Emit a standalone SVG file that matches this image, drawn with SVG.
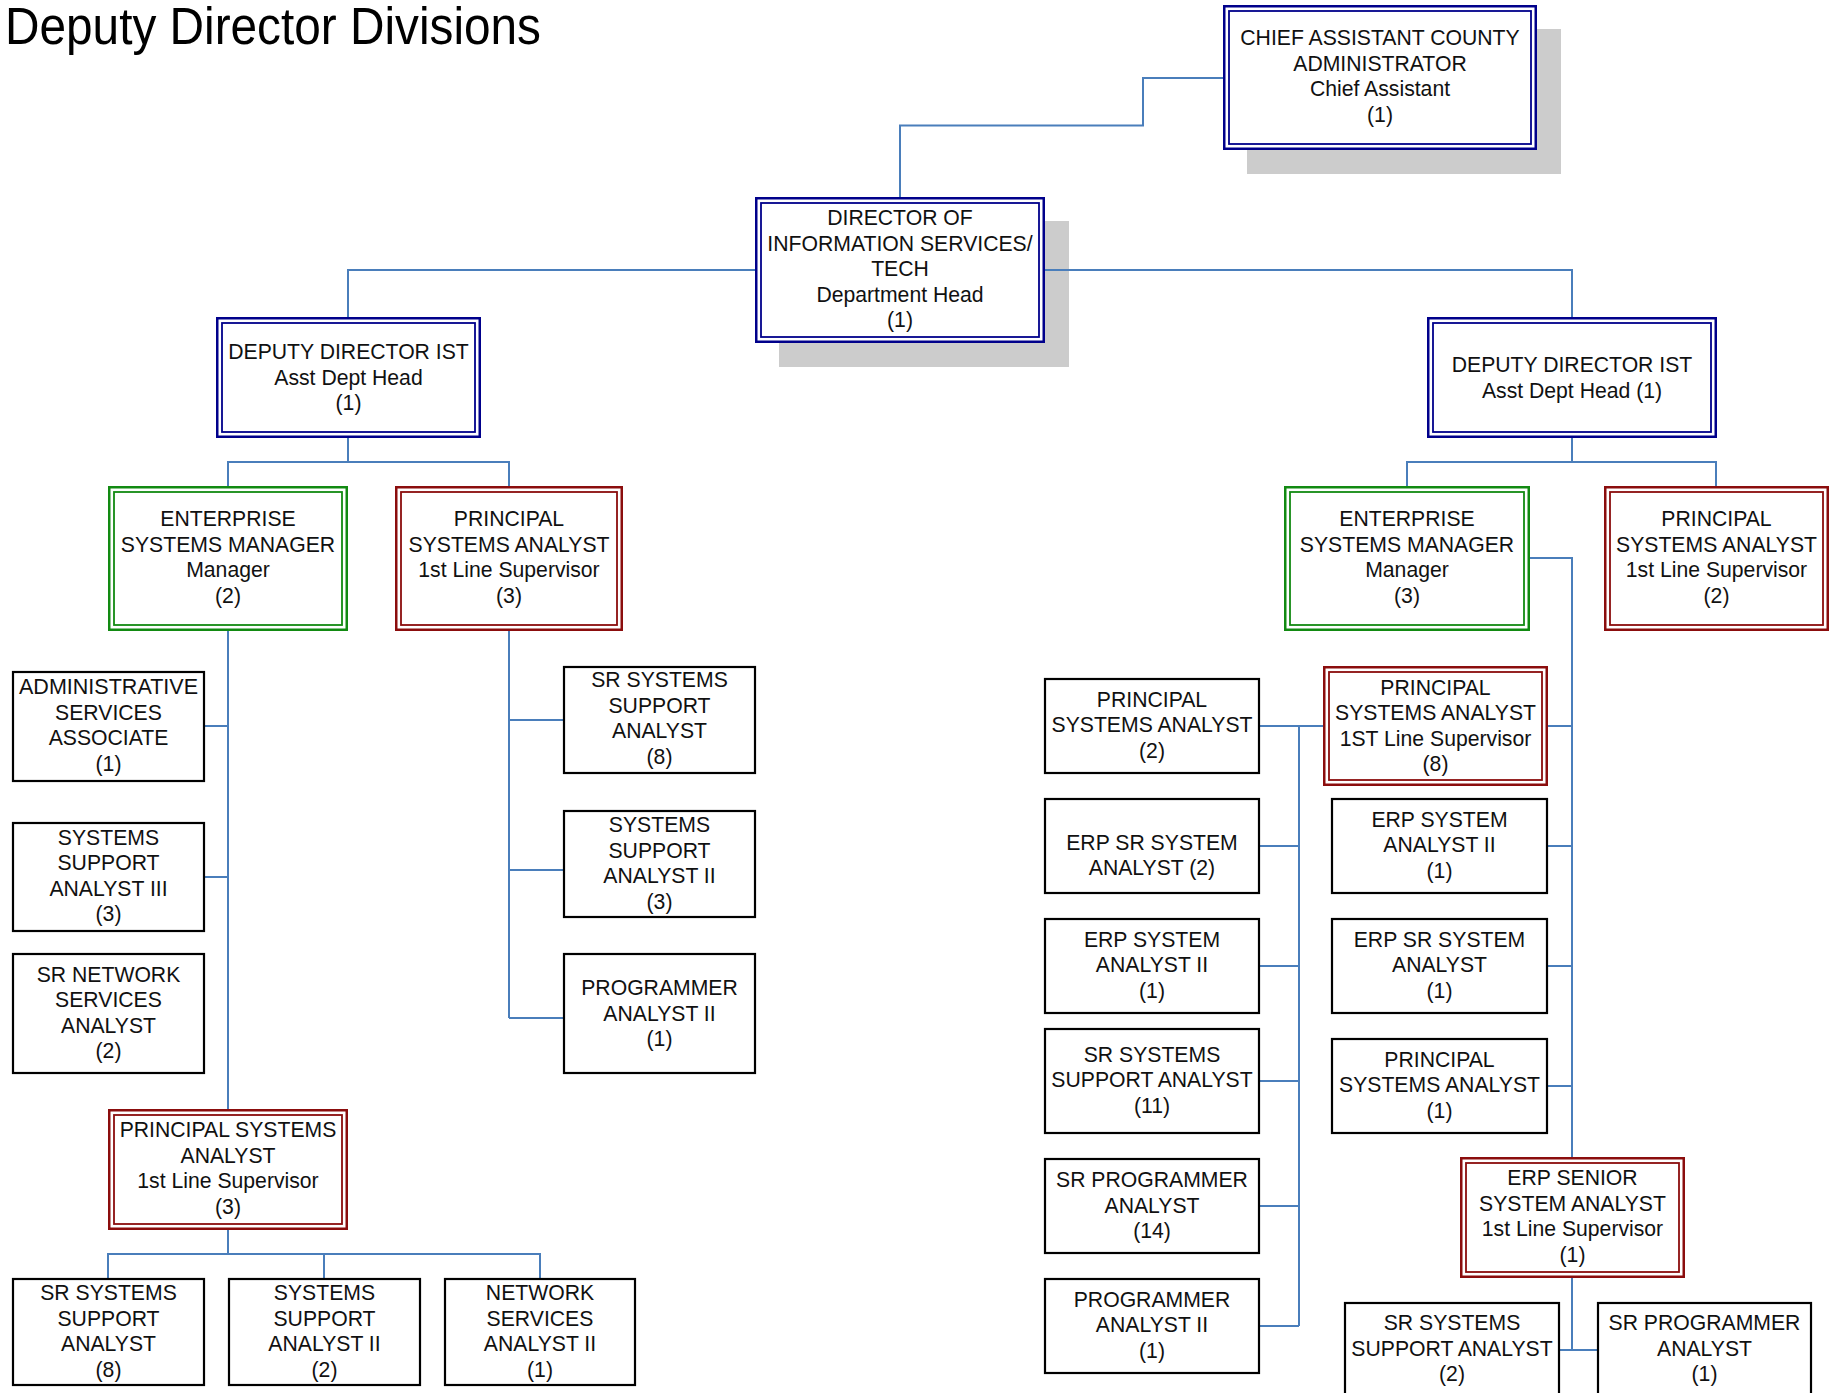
<svg xmlns="http://www.w3.org/2000/svg" width="1833" height="1393" viewBox="0 0 1833 1393">
  <style>
    text{font-family:"Liberation Sans",Arial,Helvetica,sans-serif;font-size:21.2px;fill:#111;text-anchor:middle}
    .title{font-size:51px;text-anchor:start;fill:#000}
    .sh{fill:#cccccc}
    .o{fill:#fff;stroke-width:2.5}
    .i{fill:none;stroke-width:1.8}
    .navy rect.o,.navy rect.i{stroke:#00008b}
    .grn rect.o,.grn rect.i{stroke:#128a12}
    .red rect.o,.red rect.i{stroke:#8b0d0d}
    .box{fill:#fff;stroke:#000;stroke-width:2.2}
    .cn{fill:none;stroke:#4a7ebb;stroke-width:2}
  </style>

  <rect width="1833" height="1393" fill="#fff"/>

  <text class="title" x="5" y="44" textLength="536" lengthAdjust="spacingAndGlyphs">Deputy Director Divisions</text>

  <!-- drop shadows of the two top positions -->
  <rect class="sh" x="1247" y="29" width="314" height="145"/>
  <rect class="sh" x="779" y="221" width="290" height="146"/>

  <!-- reporting lines -->
  <g id="connectors" class="cn">
    <path d="M1223,78 H1143 V125.5 H900 V197"/>
    <path d="M755,270 H348 V317"/>
    <path d="M1045,270 H1572 V317"/>
    <!-- left deputy -->
    <path d="M348,438 V462"/>
    <path d="M228,486 V462 H509 V486"/>
    <path d="M228,631 V1109"/>
    <path d="M205,726 H228"/>
    <path d="M205,877 H228"/>
    <path d="M509,631 V1018"/>
    <path d="M509,720 H563"/>
    <path d="M509,870 H563"/>
    <path d="M509,1018 H563"/>
    <path d="M228,1230 V1254"/>
    <path d="M108,1278 V1254 H540 V1278"/>
    <path d="M324,1254 V1278"/>
    <!-- right deputy -->
    <path d="M1572,438 V462"/>
    <path d="M1407,486 V462 H1716 V486"/>
    <path d="M1530,558 H1572 V1157"/>
    <path d="M1548,726 H1572"/>
    <path d="M1548,846 H1572"/>
    <path d="M1548,966 H1572"/>
    <path d="M1548,1086 H1572"/>
    <path d="M1260,726 H1323"/>
    <path d="M1299,726 V1326"/>
    <path d="M1260,846 H1299"/>
    <path d="M1260,966 H1299"/>
    <path d="M1260,1081 H1299"/>
    <path d="M1260,1206 H1299"/>
    <path d="M1260,1326 H1299"/>
    <path d="M1572,1278 V1350"/>
    <path d="M1560,1350 H1597"/>
  </g>

  <!-- top positions -->
  <g id="chief-assistant" class="navy">
    <rect class="o" x="1224.25" y="6.25" width="311.5" height="142.5"/>
    <rect class="i" x="1229" y="11" width="302" height="133"/>
    <text x="1380" y="45">CHIEF ASSISTANT COUNTY</text>
    <text x="1380" y="71">ADMINISTRATOR</text>
    <text x="1380" y="96">Chief Assistant</text>
    <text x="1380" y="122">(1)</text>
  </g>

  <g id="director" class="navy">
    <rect class="o" x="756.25" y="198.25" width="287.5" height="143.5"/>
    <rect class="i" x="761" y="203" width="278" height="134"/>
    <text x="900" y="225">DIRECTOR OF</text>
    <text x="900" y="250.6">INFORMATION SERVICES/</text>
    <text x="900" y="276.2">TECH</text>
    <text x="900" y="301.8">Department Head</text>
    <text x="900" y="327.4">(1)</text>
  </g>

  <g id="deputy-left" class="navy">
    <rect class="o" x="217.25" y="318.25" width="262.5" height="118.5"/>
    <rect class="i" x="222" y="323" width="253" height="109"/>
    <text x="348.5" y="359">DEPUTY DIRECTOR IST</text>
    <text x="348.5" y="384.6">Asst Dept Head</text>
    <text x="348.5" y="410.2">(1)</text>
  </g>

  <g id="deputy-right" class="navy">
    <rect class="o" x="1428.25" y="318.25" width="287.5" height="118.5"/>
    <rect class="i" x="1433" y="323" width="278" height="109"/>
    <text x="1572" y="372">DEPUTY DIRECTOR IST</text>
    <text x="1572" y="397.6">Asst Dept Head (1)</text>
  </g>

  <!-- left division -->
  <g id="esm-left" class="grn">
    <rect class="o" x="109.25" y="487.25" width="237.5" height="142.5"/>
    <rect class="i" x="114" y="492" width="228" height="133"/>
    <text x="228" y="526">ENTERPRISE</text>
    <text x="228" y="551.6">SYSTEMS MANAGER</text>
    <text x="228" y="577.2">Manager</text>
    <text x="228" y="602.8">(2)</text>
  </g>

  <g id="psa-left" class="red">
    <rect class="o" x="396.25" y="487.25" width="225.5" height="142.5"/>
    <rect class="i" x="401" y="492" width="216" height="133"/>
    <text x="509" y="526">PRINCIPAL</text>
    <text x="509" y="551.6">SYSTEMS ANALYST</text>
    <text x="509" y="577.2">1st Line Supervisor</text>
    <text x="509" y="602.8">(3)</text>
  </g>

  <g id="admin-services-associate">
    <rect class="box" x="13" y="672" width="191" height="109"/>
    <text x="108.5" y="694" textLength="179" lengthAdjust="spacingAndGlyphs">ADMINISTRATIVE</text>
    <text x="108.5" y="719.6">SERVICES</text>
    <text x="108.5" y="745.2">ASSOCIATE</text>
    <text x="108.5" y="770.8">(1)</text>
  </g>

  <g id="ssa-iii">
    <rect class="box" x="13" y="823" width="191" height="108"/>
    <text x="108.5" y="844.5">SYSTEMS</text>
    <text x="108.5" y="870.1">SUPPORT</text>
    <text x="108.5" y="895.7">ANALYST III</text>
    <text x="108.5" y="921.3">(3)</text>
  </g>

  <g id="sr-network-services-analyst">
    <rect class="box" x="13" y="954" width="191" height="119"/>
    <text x="108.5" y="981.5">SR NETWORK</text>
    <text x="108.5" y="1007.1">SERVICES</text>
    <text x="108.5" y="1032.7">ANALYST</text>
    <text x="108.5" y="1058.3">(2)</text>
  </g>

  <g id="sr-ssa-8">
    <rect class="box" x="564" y="667" width="191" height="106"/>
    <text x="659.5" y="687">SR SYSTEMS</text>
    <text x="659.5" y="712.6">SUPPORT</text>
    <text x="659.5" y="738.2">ANALYST</text>
    <text x="659.5" y="763.8">(8)</text>
  </g>

  <g id="ssa-ii-3">
    <rect class="box" x="564" y="811" width="191" height="106"/>
    <text x="659.5" y="832">SYSTEMS</text>
    <text x="659.5" y="857.6">SUPPORT</text>
    <text x="659.5" y="883.2">ANALYST II</text>
    <text x="659.5" y="908.8">(3)</text>
  </g>

  <g id="programmer-analyst-ii-left">
    <rect class="box" x="564" y="954" width="191" height="119"/>
    <text x="659.5" y="995">PROGRAMMER</text>
    <text x="659.5" y="1020.6">ANALYST II</text>
    <text x="659.5" y="1046.2">(1)</text>
  </g>

  <g id="psa-lower-left" class="red">
    <rect class="o" x="109.25" y="1110.25" width="237.5" height="118.5"/>
    <rect class="i" x="114" y="1115" width="228" height="109"/>
    <text x="228" y="1137">PRINCIPAL SYSTEMS</text>
    <text x="228" y="1162.6">ANALYST</text>
    <text x="228" y="1188.2">1st Line Supervisor</text>
    <text x="228" y="1213.8">(3)</text>
  </g>

  <g id="sr-ssa-bottom">
    <rect class="box" x="13" y="1279" width="191" height="106"/>
    <text x="108.5" y="1300">SR SYSTEMS</text>
    <text x="108.5" y="1325.6">SUPPORT</text>
    <text x="108.5" y="1351.2">ANALYST</text>
    <text x="108.5" y="1376.8">(8)</text>
  </g>

  <g id="ssa-ii-bottom">
    <rect class="box" x="229" y="1279" width="191" height="106"/>
    <text x="324.5" y="1300">SYSTEMS</text>
    <text x="324.5" y="1325.6">SUPPORT</text>
    <text x="324.5" y="1351.2">ANALYST II</text>
    <text x="324.5" y="1376.8">(2)</text>
  </g>

  <g id="network-services-analyst-ii">
    <rect class="box" x="445" y="1279" width="190" height="106"/>
    <text x="540" y="1300">NETWORK</text>
    <text x="540" y="1325.6">SERVICES</text>
    <text x="540" y="1351.2">ANALYST II</text>
    <text x="540" y="1376.8">(1)</text>
  </g>

  <!-- right division -->
  <g id="esm-right" class="grn">
    <rect class="o" x="1285.25" y="487.25" width="243.5" height="142.5"/>
    <rect class="i" x="1290" y="492" width="234" height="133"/>
    <text x="1407" y="526">ENTERPRISE</text>
    <text x="1407" y="551.6">SYSTEMS MANAGER</text>
    <text x="1407" y="577.2">Manager</text>
    <text x="1407" y="602.8">(3)</text>
  </g>

  <g id="psa-right" class="red">
    <rect class="o" x="1605.25" y="487.25" width="222.5" height="142.5"/>
    <rect class="i" x="1610" y="492" width="213" height="133"/>
    <text x="1716.5" y="526">PRINCIPAL</text>
    <text x="1716.5" y="551.6">SYSTEMS ANALYST</text>
    <text x="1716.5" y="577.2">1st Line Supervisor</text>
    <text x="1716.5" y="602.8">(2)</text>
  </g>

  <g id="psa-8" class="red">
    <rect class="o" x="1324.25" y="667.25" width="222.5" height="117.5"/>
    <rect class="i" x="1329" y="672" width="213" height="108"/>
    <text x="1435.5" y="694.5">PRINCIPAL</text>
    <text x="1435.5" y="720.1">SYSTEMS ANALYST</text>
    <text x="1435.5" y="745.7">1ST Line Supervisor</text>
    <text x="1435.5" y="771.3">(8)</text>
  </g>

  <g id="psa-2">
    <rect class="box" x="1045" y="679" width="214" height="94"/>
    <text x="1152" y="706.5">PRINCIPAL</text>
    <text x="1152" y="732.1">SYSTEMS ANALYST</text>
    <text x="1152" y="757.7">(2)</text>
  </g>

  <g id="erp-sr-system-analyst-2">
    <rect class="box" x="1045" y="799" width="214" height="94"/>
    <text x="1152" y="849.5">ERP SR SYSTEM</text>
    <text x="1152" y="875.1">ANALYST (2)</text>
  </g>

  <g id="erp-system-analyst-ii-left">
    <rect class="box" x="1045" y="919" width="214" height="94"/>
    <text x="1152" y="946.5">ERP SYSTEM</text>
    <text x="1152" y="972.1">ANALYST II</text>
    <text x="1152" y="997.7">(1)</text>
  </g>

  <g id="sr-ssa-11">
    <rect class="box" x="1045" y="1029" width="214" height="104"/>
    <text x="1152" y="1061.5">SR SYSTEMS</text>
    <text x="1152" y="1087.1">SUPPORT ANALYST</text>
    <text x="1152" y="1112.7">(11)</text>
  </g>

  <g id="sr-programmer-analyst-14">
    <rect class="box" x="1045" y="1159" width="214" height="94"/>
    <text x="1152" y="1187">SR PROGRAMMER</text>
    <text x="1152" y="1212.6">ANALYST</text>
    <text x="1152" y="1238.2">(14)</text>
  </g>

  <g id="programmer-analyst-ii-right">
    <rect class="box" x="1045" y="1279" width="214" height="94"/>
    <text x="1152" y="1306.6">PROGRAMMER</text>
    <text x="1152" y="1332.2">ANALYST II</text>
    <text x="1152" y="1357.8">(1)</text>
  </g>

  <g id="erp-system-analyst-ii-right">
    <rect class="box" x="1332" y="799" width="215" height="94"/>
    <text x="1439.5" y="826.5">ERP SYSTEM</text>
    <text x="1439.5" y="852.1">ANALYST II</text>
    <text x="1439.5" y="877.7">(1)</text>
  </g>

  <g id="erp-sr-system-analyst-1">
    <rect class="box" x="1332" y="919" width="215" height="94"/>
    <text x="1439.5" y="946.5">ERP SR SYSTEM</text>
    <text x="1439.5" y="972.1">ANALYST</text>
    <text x="1439.5" y="997.7">(1)</text>
  </g>

  <g id="psa-1">
    <rect class="box" x="1332" y="1039" width="215" height="94"/>
    <text x="1439.5" y="1066.5">PRINCIPAL</text>
    <text x="1439.5" y="1092.1">SYSTEMS ANALYST</text>
    <text x="1439.5" y="1117.7">(1)</text>
  </g>

  <g id="erp-senior-system-analyst" class="red">
    <rect class="o" x="1461.25" y="1158.25" width="222.5" height="118.5"/>
    <rect class="i" x="1466" y="1163" width="213" height="109"/>
    <text x="1572.5" y="1185">ERP SENIOR</text>
    <text x="1572.5" y="1210.6">SYSTEM ANALYST</text>
    <text x="1572.5" y="1236.2">1st Line Supervisor</text>
    <text x="1572.5" y="1261.8">(1)</text>
  </g>

  <g id="sr-ssa-2">
    <rect class="box" x="1345" y="1303" width="214" height="110"/>
    <text x="1452" y="1330">SR SYSTEMS</text>
    <text x="1452" y="1355.6">SUPPORT ANALYST</text>
    <text x="1452" y="1381.2">(2)</text>
  </g>

  <g id="sr-programmer-analyst-1">
    <rect class="box" x="1598" y="1303" width="213" height="110"/>
    <text x="1704.5" y="1330">SR PROGRAMMER</text>
    <text x="1704.5" y="1355.6">ANALYST</text>
    <text x="1704.5" y="1381.2">(1)</text>
  </g>
</svg>
